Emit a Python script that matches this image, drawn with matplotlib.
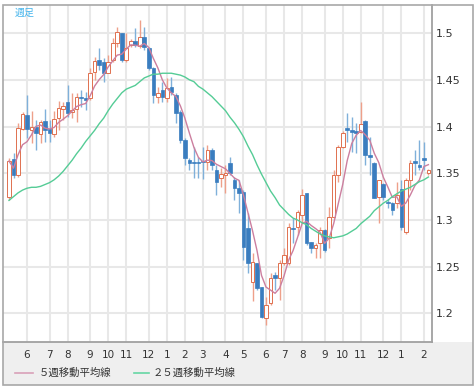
import matplotlib.pyplot as plt
from matplotlib.patches import Rectangle
from matplotlib.lines import Line2D
import pandas as pd

plt.rcParams['font.family'] = ['Noto Sans CJK JP', 'DejaVu Sans']

# weekly OHLC
opens = [1.325, 1.365, 1.348, 1.397, 1.412, 1.396, 1.400, 1.392, 1.406, 1.397,
         1.392, 1.409, 1.419, 1.426, 1.416, 1.419, 1.432, 1.431, 1.430, 1.458,
         1.471, 1.469, 1.457, 1.471, 1.489, 1.500, 1.471, 1.487, 1.492, 1.486,
         1.496, 1.484, 1.463, 1.432, 1.439, 1.431, 1.442, 1.434, 1.416, 1.386,
         1.364, 1.362, 1.362, 1.363, 1.362, 1.375, 1.354, 1.345, 1.348, 1.361,
         1.343, 1.334, 1.330, 1.291, 1.234, 1.254, 1.228, 1.195, 1.211, 1.241,
         1.238, 1.254, 1.254, 1.291, 1.292, 1.305, 1.329, 1.276, 1.270, 1.275,
         1.289, 1.281, 1.303, 1.348, 1.378, 1.398, 1.396, 1.395, 1.394, 1.406,
         1.370, 1.361, 1.325, 1.338, 1.319, 1.318, 1.318, 1.333, 1.287, 1.343,
         1.363, 1.359, 1.366, 1.350]
highs = [1.366, 1.372, 1.404, 1.416, 1.434, 1.417, 1.407, 1.407, 1.419, 1.407,
         1.417, 1.427, 1.426, 1.444, 1.436, 1.436, 1.439, 1.437, 1.463, 1.474,
         1.484, 1.473, 1.477, 1.495, 1.506, 1.500, 1.500, 1.494, 1.505, 1.514,
         1.506, 1.485, 1.464, 1.442, 1.448, 1.452, 1.453, 1.436, 1.418, 1.388,
         1.366, 1.378, 1.367, 1.378, 1.380, 1.377, 1.359, 1.356, 1.359, 1.367,
         1.346, 1.343, 1.332, 1.308, 1.265, 1.254, 1.228, 1.218, 1.243, 1.244,
         1.257, 1.270, 1.297, 1.302, 1.311, 1.333, 1.329, 1.276, 1.275, 1.292,
         1.290, 1.314, 1.353, 1.380, 1.395, 1.414, 1.410, 1.404, 1.426, 1.407,
         1.389, 1.362, 1.343, 1.340, 1.323, 1.319, 1.341, 1.343, 1.345, 1.364,
         1.375, 1.386, 1.383, 1.355]
lows = [1.321, 1.345, 1.346, 1.396, 1.388, 1.382, 1.375, 1.382, 1.383, 1.383,
        1.389, 1.396, 1.407, 1.410, 1.409, 1.405, 1.421, 1.418, 1.428, 1.450,
        1.460, 1.448, 1.457, 1.469, 1.485, 1.469, 1.469, 1.485, 1.485, 1.484,
        1.482, 1.460, 1.425, 1.425, 1.426, 1.426, 1.434, 1.404, 1.382, 1.359,
        1.354, 1.345, 1.345, 1.344, 1.354, 1.354, 1.327, 1.335, 1.329, 1.348,
        1.321, 1.308, 1.257, 1.243, 1.213, 1.225, 1.195, 1.188, 1.209, 1.225,
        1.214, 1.252, 1.252, 1.275, 1.284, 1.297, 1.273, 1.265, 1.259, 1.259,
        1.266, 1.270, 1.302, 1.341, 1.377, 1.383, 1.373, 1.372, 1.393, 1.359,
        1.348, 1.324, 1.297, 1.321, 1.313, 1.305, 1.313, 1.289, 1.285, 1.332,
        1.348, 1.354, 1.354, 1.348]
closes = [1.363, 1.348, 1.398, 1.413, 1.397, 1.400, 1.393, 1.405, 1.396, 1.393,
          1.408, 1.420, 1.422, 1.415, 1.418, 1.432, 1.430, 1.428, 1.457, 1.470,
          1.466, 1.457, 1.469, 1.489, 1.501, 1.471, 1.484, 1.492, 1.487, 1.496,
          1.485, 1.463, 1.434, 1.436, 1.432, 1.441, 1.437, 1.415, 1.386, 1.366,
          1.361, 1.361, 1.361, 1.362, 1.375, 1.359, 1.341, 1.349, 1.350, 1.350,
          1.334, 1.329, 1.271, 1.254, 1.255, 1.227, 1.196, 1.209, 1.238, 1.238,
          1.254, 1.263, 1.292, 1.290, 1.309, 1.327, 1.275, 1.270, 1.273, 1.289,
          1.268, 1.303, 1.348, 1.378, 1.393, 1.396, 1.394, 1.393, 1.403, 1.370,
          1.367, 1.324, 1.343, 1.325, 1.318, 1.311, 1.327, 1.292, 1.343, 1.361,
          1.361, 1.357, 1.364, 1.353]
# 25 week moving average (earlier weeks not shown, so read off the chart)
ma25 = [1.321, 1.325, 1.329, 1.332, 1.334, 1.335, 1.335, 1.336, 1.338, 1.340,
        1.343, 1.347, 1.352, 1.358, 1.364, 1.371, 1.377, 1.384, 1.390, 1.396,
        1.403, 1.409, 1.417, 1.424, 1.430, 1.436, 1.440, 1.442, 1.444, 1.448,
        1.452, 1.454, 1.456, 1.456, 1.457, 1.457, 1.457, 1.456, 1.455, 1.453,
        1.450, 1.448, 1.443, 1.440, 1.436, 1.432, 1.427, 1.422, 1.417, 1.410,
        1.404, 1.397, 1.389, 1.379, 1.370, 1.359, 1.349, 1.340, 1.331, 1.324,
        1.316, 1.311, 1.306, 1.302, 1.300, 1.297, 1.295, 1.291, 1.288, 1.285,
        1.283, 1.282, 1.281, 1.282, 1.283, 1.285, 1.288, 1.291, 1.296, 1.300,
        1.304, 1.310, 1.314, 1.318, 1.321, 1.325, 1.328, 1.331, 1.333, 1.335,
        1.338, 1.341, 1.343, 1.346]

month_pos = [4, 9, 13, 18, 22, 26, 31, 35, 39, 43, 48, 52, 57, 61, 65, 70, 74, 78, 83, 87, 92]
month_labels = ['6', '7', '8', '9', '10', '11', '12', '1', '2', '3', '4', '5',
                '6', '7', '8', '9', '10', '11', '12', '1', '2']
price_ticks = [1.2, 1.25, 1.3, 1.35, 1.4, 1.45, 1.5]
price_labels = ['1.2', '1.25', '1.3', '1.35', '1.4', '1.45', '1.5']

W, H = 477, 387
fig = plt.figure(figsize=(W / 100, H / 100), dpi=100, facecolor='white')

# bottom grey strip + outer frame
fig.patches.append(Rectangle((3 / W, 2 / H), 470 / W, 43 / H, transform=fig.transFigure,
                             facecolor='#efefef', edgecolor='none', zorder=-5))
fig.patches.append(Rectangle((3 / W, 2 / H), 470 / W, 380 / H, transform=fig.transFigure,
                             facecolor='none', edgecolor='#a8a8a8', lw=1.2, zorder=5))

ax = fig.add_axes([3 / W, 1 - 342 / H, 429 / W, 337 / H])
ax.set_facecolor('white')

n = len(closes)
xs = list(range(n))

up_edge = '#e0704f'
up_wick = '#eea08a'
dn_face = '#3a7dbf'
dn_wick = '#7fb0da'
bw = 0.8

for i in xs:
    o, h, l, c = opens[i], highs[i], lows[i], closes[i]
    up = c >= o
    ax.vlines(i, l, h, color=up_wick if up else dn_wick, lw=1.0, zorder=2)
    lo, hi = min(o, c), max(o, c)
    hgt = max(hi - lo, 0.0015)
    if up:
        ax.add_patch(Rectangle((i - bw / 2, lo), bw, hgt, facecolor='white',
                               edgecolor=up_edge, lw=0.7, zorder=3))
    else:
        ax.add_patch(Rectangle((i - bw / 2, lo), bw, hgt, facecolor=dn_face,
                               edgecolor=dn_face, lw=0.5, zorder=3))

ma5 = pd.Series(closes).rolling(5, min_periods=1).mean()
ax.plot(xs, ma5, color='#cc7f9f', lw=1.0, zorder=4)
ax.plot(xs, ma25, color='#55cc96', lw=1.0, zorder=4)

ax.set_xlim(-1.33, 93.8)
ax.set_ylim(1.1695, 1.530)

ax.set_xticks(month_pos)
ax.set_xticklabels(month_labels)
ax.set_yticks(price_ticks)
ax.set_yticklabels(price_labels)
ax.yaxis.tick_right()
ax.tick_params(axis='both', length=0, colors='#333333')
ax.tick_params(axis='x', labelsize=7.5, pad=6)
ax.tick_params(axis='y', labelsize=8, pad=3)
for lab in ax.get_xticklabels() + ax.get_yticklabels():
    lab.set_family('DejaVu Sans')

ax.grid(True, color='#e8e8e8', lw=1.5, zorder=0)
ax.set_axisbelow(True)
for s in ['top', 'left']:
    ax.spines[s].set_visible(False)
for s in ['right', 'bottom']:
    ax.spines[s].set_color('#a0a0a0')
    ax.spines[s].set_linewidth(1.3)

fig.text(15 / W, 1 - 13 / H, '週足', color='#44b4ec', fontsize=7.2, va='center', ha='left')

# legend
fig.add_artist(Line2D([15 / W, 33 / W], [1 - 373 / H] * 2, color='#d9a0b8', lw=1.2))
fig.text(39 / W, 1 - 373 / H, '５週移動平均線', fontsize=7.5, va='center', ha='left', color='#333333')
fig.add_artist(Line2D([134 / W, 149 / W], [1 - 373 / H] * 2, color='#66d6a4', lw=1.2))
fig.text(153 / W, 1 - 373 / H, '２５週移動平均線', fontsize=7.5, va='center', ha='left', color='#333333')

fig.savefig('out.png', dpi=100)
